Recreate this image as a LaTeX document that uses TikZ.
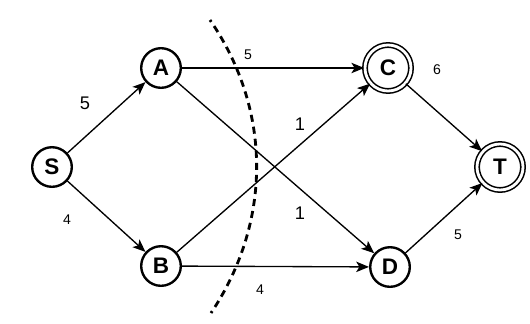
\documentclass[tikz,border=0pt]{standalone}
\usepackage{fontspec}
\setmainfont{Liberation Sans}
\usetikzlibrary{arrows.meta,positioning}

\begin{document}
\begin{tikzpicture}[
  x=0.025cm, y=-0.025cm,
  vertex/.style={circle, draw, line width=1.7pt, minimum size=0.99cm, inner sep=0pt, font=\fontsize{16}{16}\selectfont\bfseries},
  sink/.style={vertex, double, double distance=2pt, line width=1.1pt, minimum size=1.15cm},
  arrow/.style={-{Stealth[length=3.2mm, width=2.6mm, inset=0.8mm]}, line width=0.95pt},
  biglabel/.style={font=\fontsize{13}{13}\selectfont},
  smalllabel/.style={font=\fontsize{10}{10}\selectfont}
]
\useasboundingbox (0,0) rectangle (530,323);

\node[vertex] (s) at (52,167) {S};
\node[vertex] (a) at (161,68) {A};
\node[vertex] (b) at (161,266) {B};
\node[sink] (c) at (388,68) {C};
\node[vertex] (d) at (390,267) {D};
\node[sink] (t) at (500,167) {T};

\draw[arrow] (s) -- (a);
\draw[arrow] (s) -- (b);
\draw[arrow] (a) -- (c);
\draw[arrow] (a) -- (d);
\draw[arrow] (b) -- (c);
\draw[arrow] (b) -- (d);
\draw[arrow] (c) -- (t);
\draw[arrow] (d) -- (t);

% capacities
\node[biglabel] (lsa) at (85,103) {5};
\node[smalllabel] (lsb) at (67,220) {4};
\node[smalllabel] (lac) at (248,55) {5};
\node[biglabel] (lbc) at (300,124) {1};
\node[biglabel] (lad) at (300,213) {1};
\node[smalllabel] (lbd) at (260,290) {4};
\node[smalllabel] (lct) at (437,70) {6};
\node[smalllabel] (ldt) at (458,235) {5};

% the cut
\coordinate (cuttop) at (210,20);
\coordinate (cutbot) at (211,313);
\draw[line width=2pt, dash pattern=on 5pt off 3.6pt, dash phase=3.4pt] (cuttop) .. controls (272,110) and (272,222) .. (cutbot);

\end{tikzpicture}
\end{document}
